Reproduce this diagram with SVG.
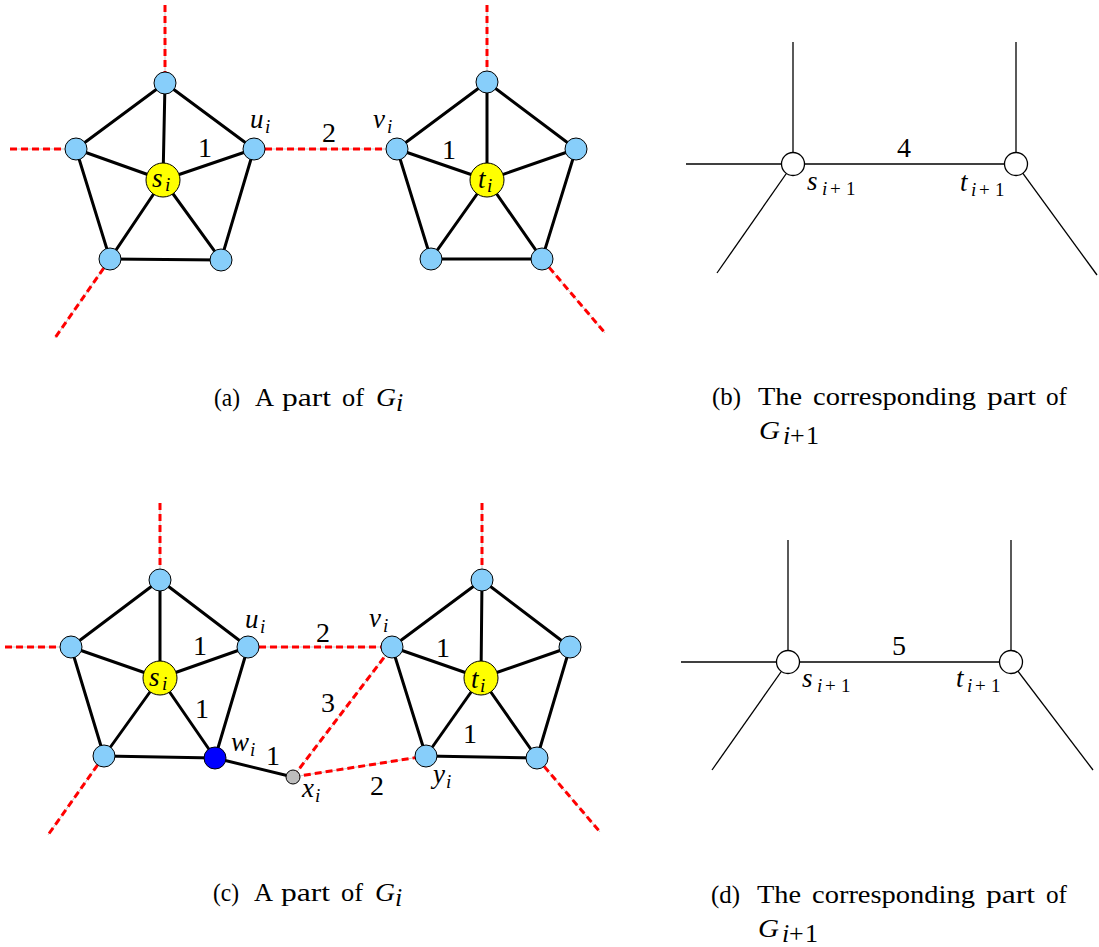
<svg xmlns="http://www.w3.org/2000/svg" width="1099" height="947" viewBox="0 0 1099 947" font-family="Liberation Serif, DejaVu Serif, serif">
<style>
.e{stroke:#000;stroke-width:3;fill:none;stroke-linecap:round}
.g{stroke:#c8c8c8;stroke-width:1;fill:none}
.r{stroke:#ff0000;stroke-width:3;fill:none;stroke-dasharray:7 4}
.t{stroke:#000;stroke-width:1.3;fill:none}
.nb{fill:#87cefa;stroke:#000;stroke-width:1}
.ny{fill:#ffff00;stroke:#000;stroke-width:1}
.nd{fill:#0000ff;stroke:#000;stroke-width:1}
.nx{fill:#bdbdbd;stroke:#000;stroke-width:1}
.nw{fill:#fff;stroke:#000;stroke-width:1.3}
.m{font-family:'Liberation Serif',serif;font-style:italic;font-size:27px;fill:#000}
.s{font-family:'Liberation Serif',serif;font-style:italic;font-size:19px;fill:#000}
.su{font-style:normal}
.n{font-family:'Liberation Serif',serif;font-size:28px;text-anchor:middle;fill:#000}
.c{font-family:'Liberation Serif',serif;font-size:26px;fill:#000}
</style>

<g id="connectors">
  <g>
    <line class="g" x1="165" y1="5" x2="165" y2="83"/><line class="r" x1="165" y1="5" x2="165" y2="83"/>
    <line class="g" x1="10" y1="149" x2="76" y2="149"/><line class="r" x1="10" y1="149" x2="76" y2="149"/>
    <line class="g" x1="110" y1="259" x2="55" y2="338"/><line class="r" x1="110" y1="259" x2="55" y2="338"/>
    <line class="g" x1="254" y1="149" x2="397" y2="149"/><line class="r" x1="254" y1="149" x2="397" y2="149"/>
    <line class="g" x1="487" y1="5" x2="487" y2="82"/><line class="r" x1="487" y1="5" x2="487" y2="82"/>
    <line class="g" x1="542" y1="259" x2="605" y2="333"/><line class="r" x1="542" y1="259" x2="605" y2="333"/>
  </g>
  <g>
    <line class="e" x1="165" y1="83" x2="76" y2="149"/>
    <line class="e" x1="165" y1="83" x2="254" y2="149"/>
    <line class="e" x1="76" y1="149" x2="110" y2="259"/>
    <line class="e" x1="254" y1="149" x2="221" y2="260"/>
    <line class="e" x1="110" y1="259" x2="221" y2="260"/>
    <line class="e" x1="163" y1="180" x2="165" y2="83"/>
    <line class="e" x1="163" y1="180" x2="76" y2="149"/>
    <line class="e" x1="163" y1="180" x2="254" y2="149"/>
    <line class="e" x1="163" y1="180" x2="110" y2="259"/>
    <line class="e" x1="163" y1="180" x2="221" y2="260"/>
  </g>
  <g>
    <line class="e" x1="487" y1="82" x2="397" y2="149"/>
    <line class="e" x1="487" y1="82" x2="576" y2="149"/>
    <line class="e" x1="397" y1="149" x2="431" y2="259"/>
    <line class="e" x1="576" y1="149" x2="542" y2="259"/>
    <line class="e" x1="431" y1="259" x2="542" y2="259"/>
    <line class="e" x1="487" y1="180" x2="487" y2="82"/>
    <line class="e" x1="487" y1="180" x2="397" y2="149"/>
    <line class="e" x1="487" y1="180" x2="576" y2="149"/>
    <line class="e" x1="487" y1="180" x2="431" y2="259"/>
    <line class="e" x1="487" y1="180" x2="542" y2="259"/>
  </g>
  <g>
    <line class="g" x1="160" y1="503" x2="160" y2="580"/><line class="r" x1="160" y1="503" x2="160" y2="580"/>
    <line class="g" x1="5" y1="647" x2="71" y2="647"/><line class="r" x1="5" y1="647" x2="71" y2="647"/>
    <line class="g" x1="104" y1="756" x2="48" y2="835"/><line class="r" x1="104" y1="756" x2="48" y2="835"/>
    <line class="g" x1="248" y1="647" x2="392" y2="647"/><line class="r" x1="248" y1="647" x2="392" y2="647"/>
    <line class="g" x1="293" y1="777" x2="392" y2="647"/><line class="r" x1="293" y1="777" x2="392" y2="647"/>
    <line class="g" x1="293" y1="777" x2="426" y2="756"/><line class="r" x1="293" y1="777" x2="426" y2="756"/>
    <line class="g" x1="482" y1="503" x2="482" y2="580"/><line class="r" x1="482" y1="503" x2="482" y2="580"/>
    <line class="g" x1="537" y1="758" x2="600" y2="832"/><line class="r" x1="537" y1="758" x2="600" y2="832"/>
  </g>
  <g>
    <line class="e" x1="160" y1="580" x2="71" y2="647"/>
    <line class="e" x1="160" y1="580" x2="248" y2="647"/>
    <line class="e" x1="71" y1="647" x2="104" y2="756"/>
    <line class="e" x1="248" y1="647" x2="215" y2="758"/>
    <line class="e" x1="104" y1="756" x2="215" y2="758"/>
    <line class="e" x1="160" y1="678" x2="160" y2="580"/>
    <line class="e" x1="160" y1="678" x2="71" y2="647"/>
    <line class="e" x1="160" y1="678" x2="248" y2="647"/>
    <line class="e" x1="160" y1="678" x2="104" y2="756"/>
    <line class="e" x1="160" y1="678" x2="215" y2="758"/>
    <line class="e" x1="215" y1="758" x2="293" y2="777"/>
  </g>
  <g>
    <line class="e" x1="482" y1="580" x2="392" y2="647"/>
    <line class="e" x1="482" y1="580" x2="570" y2="647"/>
    <line class="e" x1="392" y1="647" x2="426" y2="756"/>
    <line class="e" x1="570" y1="647" x2="537" y2="758"/>
    <line class="e" x1="426" y1="756" x2="537" y2="758"/>
    <line class="e" x1="481" y1="678" x2="482" y2="580"/>
    <line class="e" x1="481" y1="678" x2="392" y2="647"/>
    <line class="e" x1="481" y1="678" x2="570" y2="647"/>
    <line class="e" x1="481" y1="678" x2="426" y2="756"/>
    <line class="e" x1="481" y1="678" x2="537" y2="758"/>
  </g>
  <g>
    <line class="t" x1="793" y1="42" x2="793" y2="164"/>
    <line class="t" x1="686" y1="164" x2="793" y2="164"/>
    <line class="t" x1="793" y1="164" x2="717" y2="273"/>
    <line class="t" x1="793" y1="164" x2="1016" y2="164"/>
    <line class="t" x1="1016" y1="42" x2="1016" y2="164"/>
    <line class="t" x1="1016" y1="164" x2="1097" y2="275"/>
  </g>
  <g>
    <line class="t" x1="788" y1="540" x2="788" y2="662"/>
    <line class="t" x1="681" y1="662" x2="788" y2="662"/>
    <line class="t" x1="788" y1="662" x2="712" y2="770"/>
    <line class="t" x1="788" y1="662" x2="1011" y2="662"/>
    <line class="t" x1="1011" y1="540" x2="1011" y2="662"/>
    <line class="t" x1="1011" y1="662" x2="1093" y2="770"/>
  </g>
</g>

<g id="a-top-l"><circle class="nb" cx="165" cy="83" r="11"/></g>
<g id="a-left-l"><circle class="nb" cx="76" cy="149" r="11"/></g>
<g id="a-u"><circle class="nb" cx="254" cy="149" r="11"/><text class="m" x="250" y="128">u</text><text class="s" x="265" y="133">i</text></g>
<g id="a-bl-l"><circle class="nb" cx="110" cy="259" r="11"/></g>
<g id="a-br-l"><circle class="nb" cx="221" cy="260" r="11"/></g>
<g id="a-s"><circle class="ny" cx="163" cy="180" r="17"/><text class="m" x="152" y="187">s</text><text class="s" x="165" y="191">i</text></g>
<g id="a-top-r"><circle class="nb" cx="487" cy="82" r="11"/></g>
<g id="a-v"><circle class="nb" cx="397" cy="149" r="11"/><text class="m" x="373" y="128">v</text><text class="s" x="387" y="133">i</text></g>
<g id="a-right-r"><circle class="nb" cx="576" cy="149" r="11"/></g>
<g id="a-bl-r"><circle class="nb" cx="431" cy="259" r="11"/></g>
<g id="a-br-r"><circle class="nb" cx="542" cy="259" r="11"/></g>
<g id="a-t"><circle class="ny" cx="487" cy="180" r="17"/><text class="m" x="478" y="188">t</text><text class="s" x="487" y="192">i</text></g>
<g id="a-labels">
  <text class="n" x="205" y="157">1</text>
  <text class="n" x="329" y="142">2</text>
  <text class="n" x="449" y="159">1</text>
</g>

<g id="c-top-l"><circle class="nb" cx="160" cy="580" r="11"/></g>
<g id="c-left-l"><circle class="nb" cx="71" cy="647" r="11"/></g>
<g id="c-u"><circle class="nb" cx="248" cy="647" r="11"/><text class="m" x="245" y="628">u</text><text class="s" x="260" y="633">i</text></g>
<g id="c-bl-l"><circle class="nb" cx="104" cy="756" r="11"/></g>
<g id="c-w"><circle class="nd" cx="215" cy="758" r="11"/><text class="m" x="231" y="751">w</text><text class="s" x="250" y="756">i</text></g>
<g id="c-s"><circle class="ny" cx="160" cy="678" r="17"/><text class="m" x="149" y="686">s</text><text class="s" x="162" y="690">i</text></g>
<g id="c-x"><circle class="nx" cx="293" cy="777" r="7"/><text class="m" x="302" y="797">x</text><text class="s" x="315" y="802">i</text></g>
<g id="c-top-r"><circle class="nb" cx="482" cy="580" r="11"/></g>
<g id="c-v"><circle class="nb" cx="392" cy="647" r="11"/><text class="m" x="369" y="627">v</text><text class="s" x="383" y="632">i</text></g>
<g id="c-right-r"><circle class="nb" cx="570" cy="647" r="11"/></g>
<g id="c-y"><circle class="nb" cx="426" cy="756" r="11"/><text class="m" x="433" y="783">y</text><text class="s" x="446" y="788">i</text></g>
<g id="c-br-r"><circle class="nb" cx="537" cy="758" r="11"/></g>
<g id="c-t"><circle class="ny" cx="481" cy="678" r="17"/><text class="m" x="471" y="688">t</text><text class="s" x="480" y="692">i</text></g>
<g id="c-labels">
  <text class="n" x="200" y="655">1</text>
  <text class="n" x="202" y="718">1</text>
  <text class="n" x="273" y="765">1</text>
  <text class="n" x="323" y="642">2</text>
  <text class="n" x="443" y="657">1</text>
  <text class="n" x="328" y="712">3</text>
  <text class="n" x="470" y="743">1</text>
  <text class="n" x="377" y="795">2</text>
</g>

<g id="b-s"><circle class="nw" cx="793" cy="164" r="11.5"/><text class="m" x="807" y="190">s</text><text class="s" y="195"><tspan x="822">i</tspan><tspan class="su" x="830">+</tspan><tspan class="su" x="846">1</tspan></text></g>
<g id="b-t"><circle class="nw" cx="1016" cy="164" r="11.5"/><text class="m" x="960" y="191">t</text><text class="s" y="196"><tspan x="971">i</tspan><tspan class="su" x="979">+</tspan><tspan class="su" x="995">1</tspan></text></g>
<text class="n" x="904" y="157">4</text>

<g id="d-s"><circle class="nw" cx="788" cy="662" r="11.5"/><text class="m" x="802" y="687">s</text><text class="s" y="692"><tspan x="817">i</tspan><tspan class="su" x="825">+</tspan><tspan class="su" x="841">1</tspan></text></g>
<g id="d-t"><circle class="nw" cx="1011" cy="662" r="11.5"/><text class="m" x="956" y="687">t</text><text class="s" y="692"><tspan x="967">i</tspan><tspan class="su" x="975">+</tspan><tspan class="su" x="991">1</tspan></text></g>
<text class="n" x="899" y="655">5</text>

<g id="captions">
  <text class="c" x="214" y="406" textLength="26" lengthAdjust="spacingAndGlyphs">(a)</text>
  <text class="c" x="255" y="406" textLength="19" lengthAdjust="spacingAndGlyphs">A</text>
  <text class="c" x="282" y="406" textLength="49" lengthAdjust="spacingAndGlyphs">part</text>
  <text class="c" x="342" y="406" textLength="22" lengthAdjust="spacingAndGlyphs">of</text>
  <text class="c" x="376" y="406" font-style="italic" textLength="20" lengthAdjust="spacingAndGlyphs">G</text>
  <text class="c" x="396" y="411" font-style="italic" font-size="18">i</text>

  <text class="c" x="712" y="405" textLength="29" lengthAdjust="spacingAndGlyphs">(b)</text>
  <text class="c" x="758" y="405" textLength="44" lengthAdjust="spacingAndGlyphs">The</text>
  <text class="c" x="813" y="405" textLength="163" lengthAdjust="spacingAndGlyphs">corresponding</text>
  <text class="c" x="987" y="405" textLength="49" lengthAdjust="spacingAndGlyphs">part</text>
  <text class="c" x="1046" y="405" textLength="21" lengthAdjust="spacingAndGlyphs">of</text>
  <text class="c" x="759" y="439" font-style="italic" textLength="21" lengthAdjust="spacingAndGlyphs">G</text>
  <text class="c" y="444" font-size="18"><tspan x="783" font-style="italic">i</tspan><tspan x="790">+</tspan><tspan x="806">1</tspan></text>

  <text class="c" x="213" y="901" textLength="26" lengthAdjust="spacingAndGlyphs">(c)</text>
  <text class="c" x="254" y="901" textLength="19" lengthAdjust="spacingAndGlyphs">A</text>
  <text class="c" x="281" y="901" textLength="49" lengthAdjust="spacingAndGlyphs">part</text>
  <text class="c" x="341" y="901" textLength="22" lengthAdjust="spacingAndGlyphs">of</text>
  <text class="c" x="375" y="901" font-style="italic" textLength="20" lengthAdjust="spacingAndGlyphs">G</text>
  <text class="c" x="395" y="906" font-style="italic" font-size="18">i</text>

  <text class="c" x="711" y="903" textLength="29" lengthAdjust="spacingAndGlyphs">(d)</text>
  <text class="c" x="757" y="903" textLength="44" lengthAdjust="spacingAndGlyphs">The</text>
  <text class="c" x="812" y="903" textLength="163" lengthAdjust="spacingAndGlyphs">corresponding</text>
  <text class="c" x="986" y="903" textLength="49" lengthAdjust="spacingAndGlyphs">part</text>
  <text class="c" x="1046" y="903" textLength="21" lengthAdjust="spacingAndGlyphs">of</text>
  <text class="c" x="758" y="937" font-style="italic" textLength="21" lengthAdjust="spacingAndGlyphs">G</text>
  <text class="c" y="942" font-size="18"><tspan x="782" font-style="italic">i</tspan><tspan x="789">+</tspan><tspan x="805">1</tspan></text>
</g>
</svg>
